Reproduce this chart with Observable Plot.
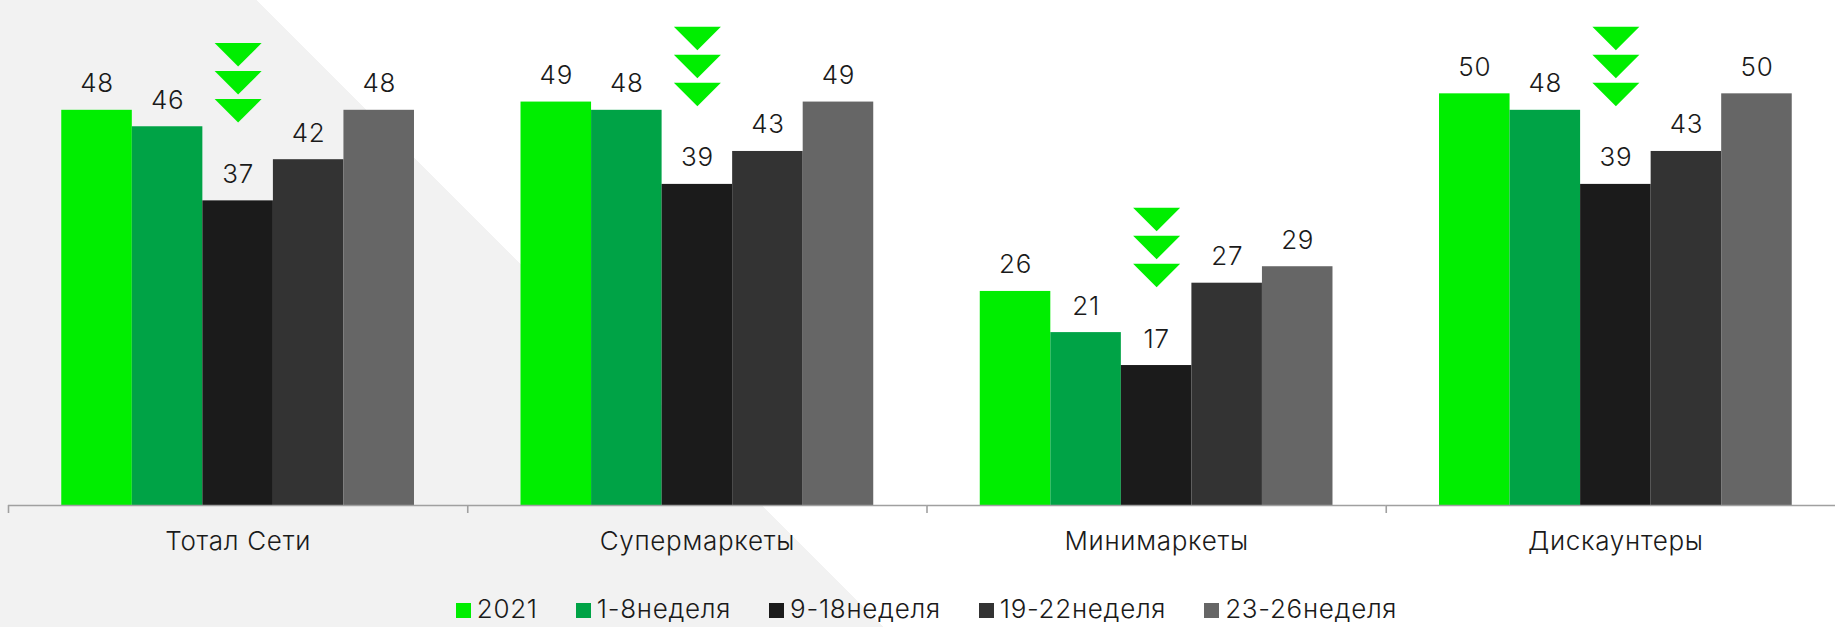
<!DOCTYPE html>
<html>
<head>
<meta charset="utf-8">
<script src="https://cdn.jsdelivr.net/npm/d3@7"></script>
<script src="https://cdn.jsdelivr.net/npm/@observablehq/plot@0.6"></script>
<style>
  html, body { margin: 0; padding: 0; background: #fff; }
  #chart {
    width: 1835px; height: 627px; overflow: hidden;
    /* light grey wedge on the left, cut by a 45° diagonal */
    background: linear-gradient(45deg, #f2f2f2 35.9%, #ffffff 35.9%);
    font-family: Inter, "Noto Sans", sans-serif;
    font-weight: 300;
    color: #1a1a1a;
  }
  #legend {
    display: flex; justify-content: center; align-items: flex-end;
    height: 37px; box-sizing: border-box; padding-left: 18px; padding-bottom: 5px;
    font-size: 26px; line-height: 1; letter-spacing: 0.7px;
  }
  #legend .item { display: flex; align-items: flex-end; margin-right: 38px; }
  #legend .item:last-child { margin-right: 0; }
  #legend .sw { width: 15px; height: 15px; margin-right: 6px; margin-bottom: 4px; }
</style>
</head>
<body>
<div id="chart"></div>
<script>
// Store formats and survey periods
const categories = ["Тотал Сети", "Супермаркеты", "Минимаркеты", "Дискаунтеры"];
const periods = ["2021", "1-8неделя", "9-18неделя", "19-22неделя", "23-26неделя"];

// Values per period, in the order of categories
const values2021 = [48, 49, 26, 50];
const weeks1to8 = [46, 48, 21, 48];
const weeks9to18 = [37, 39, 17, 39];
const weeks19to22 = [42, 43, 27, 43];
const weeks23to26 = [48, 49, 29, 50];

const periodColors = ["#00ee00", "#00a346", "#1b1b1b", "#333333", "#666666"];
const dropPeriod = "9-18неделя";

const seriesValues = [values2021, weeks1to8, weeks9to18, weeks19to22, weeks23to26];
const rows = [];
categories.forEach((c, i) => periods.forEach((p, j) => rows.push({category: c, period: p, value: seriesValues[j][i]})));
const drops = rows.filter(d => d.period === dropPeriod);

// Flat, downward-pointing triangle used for the "decline" markers
const flatTriangle = {
  draw(context, size) {
    const r = Math.sqrt(size / Math.PI);
    const h = r;
    context.moveTo(-r, -h / 2);
    context.lineTo(r, -h / 2);
    context.lineTo(0, h / 2);
    context.closePath();
  }
};

const W = 1835, H = 590;
const mL = 8, mR = -10;
const groupWidth = (W - mL - mR) / categories.length;
const axisGrey = "#a0a0a0";
const green = periodColors[0];

const chart = Plot.plot({
  width: W,
  height: H,
  marginTop: 11,
  marginBottom: 85,
  marginLeft: mL,
  marginRight: mR,
  style: {background: "transparent", fontFamily: "Inter, 'Noto Sans', sans-serif", fontSize: "26px", fontWeight: 300, letterSpacing: "0.7px", color: "#1a1a1a", overflow: "visible"},
  fx: {domain: categories, padding: 0, round: false, label: null},
  x: {domain: periods, paddingInner: 0, paddingOuter: 0.755, round: false, axis: null},
  y: {domain: [0, 60], axis: null},
  color: {domain: periods, range: periodColors},
  marks: [
    Plot.barY(rows, {fx: "category", x: "period", y: "value", fill: "period"}),
    Plot.ruleY([0], {stroke: axisGrey, strokeWidth: 1.6}),
    Plot.text(rows, {fx: "category", x: "period", y: "value", text: d => String(d.value), lineAnchor: "bottom", dy: -18, fontSize: 26, fill: "#1a1a1a"}),
    ...[0, 1, 2].map(k => Plot.dot(drops, {
      fx: "category", x: "period", y: "value",
      symbol: flatTriangle, r: 23.5, fill: green, dy: -(90 + 28 * k)
    })),
    // boundary ticks between store formats
    Plot.axisFx({anchor: "bottom", tickSize: 8, tickFormat: () => "", dx: -groupWidth / 2, stroke: axisGrey, strokeWidth: 1.6, label: null}),
    // format names
    Plot.axisFx({anchor: "bottom", tickSize: 0, tickPadding: 26, fontSize: 26, fill: "#1a1a1a", label: null})
  ]
});

const root = document.getElementById("chart");
root.appendChild(chart);

// Legend below the plot
const legend = d3.select(root).append("div").attr("id", "legend");
const items = legend.selectAll(".item").data(periods).join("div").attr("class", "item");
items.append("span").attr("class", "sw").style("background", (d, i) => periodColors[i]);
items.append("span").attr("class", "lbl").text(d => d);
</script>
</body>
</html>
